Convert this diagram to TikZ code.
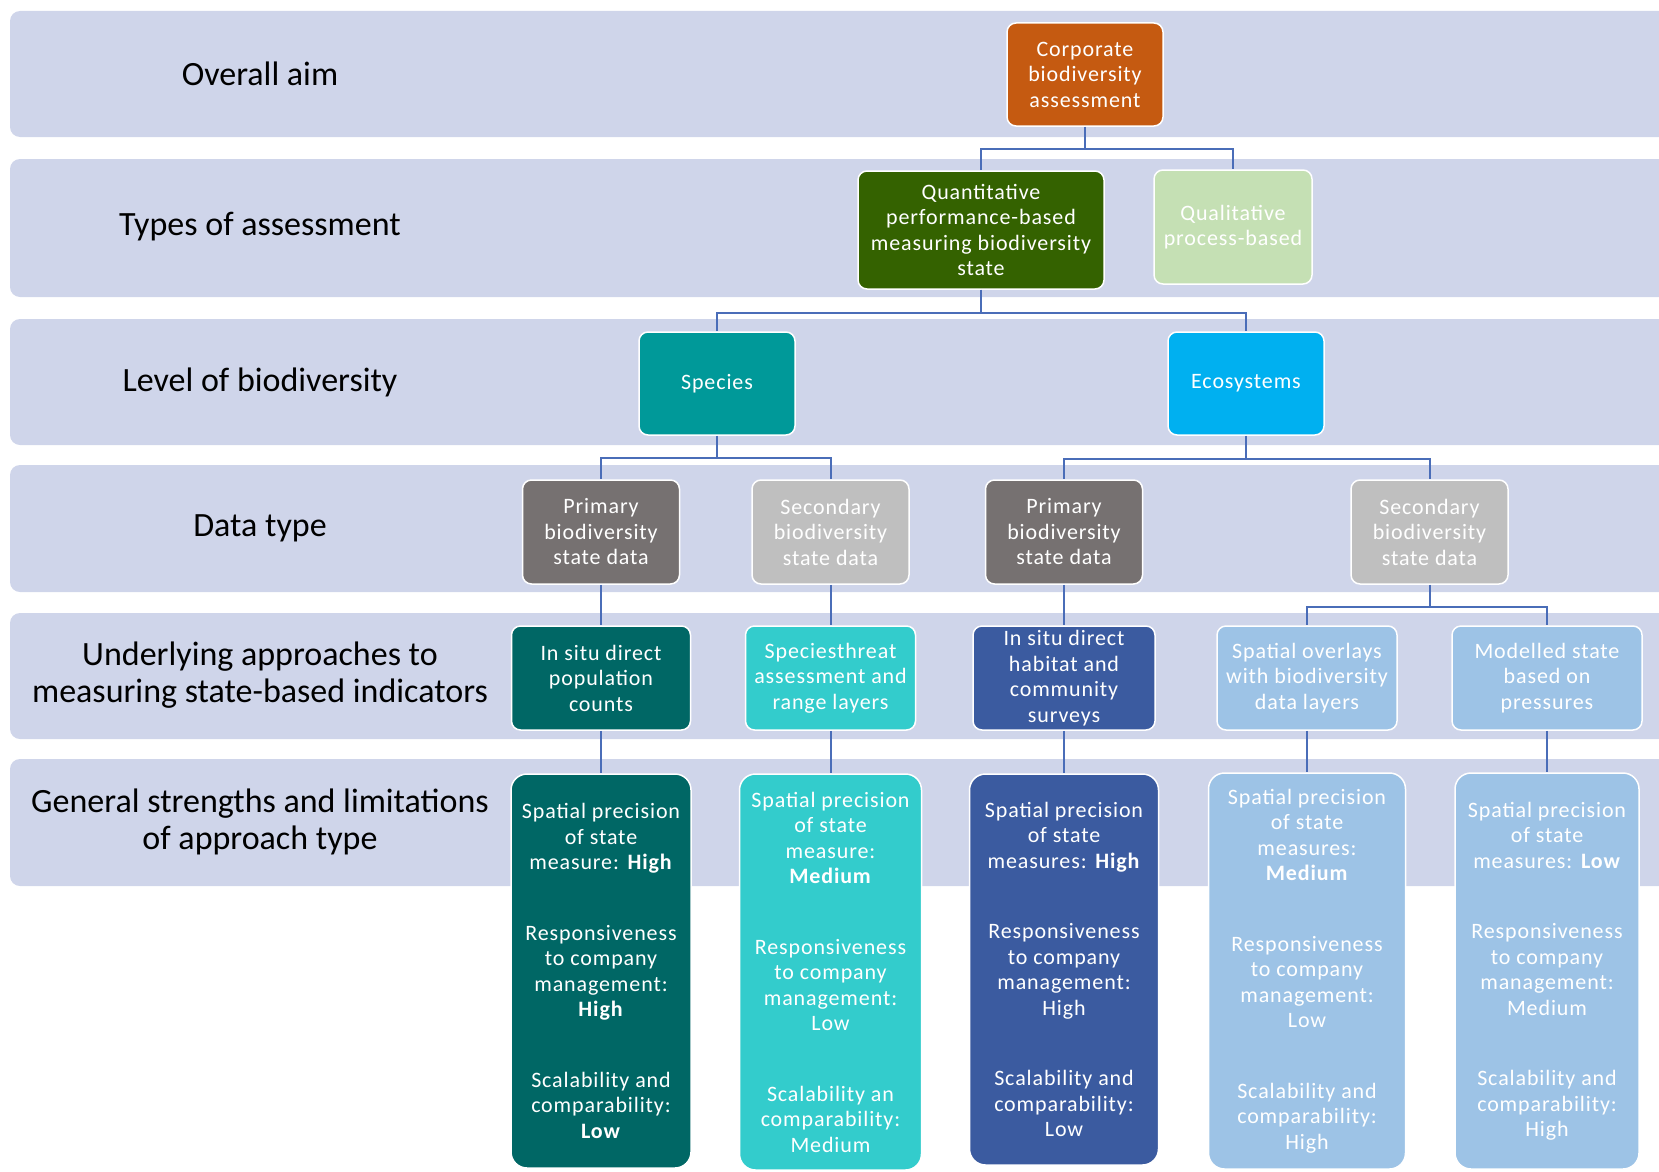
\documentclass[tikz,border=0pt]{standalone}
\usepackage{fontspec}
\setmainfont{Carlito}
\newfontfamily\boxfont[LetterSpace=4]{Carlito}
\definecolor{bandc}{HTML}{CFD5EA}
\definecolor{connc}{HTML}{4A6DB8}
\definecolor{corpc}{HTML}{C55A11}
\definecolor{quantc}{HTML}{346200}
\definecolor{qualc}{HTML}{C5E0B4}
\definecolor{specc}{HTML}{009999}
\definecolor{ecoc}{HTML}{00B0F0}
\definecolor{primc}{HTML}{767171}
\definecolor{secc}{HTML}{BFBFBF}
\definecolor{tealdk}{HTML}{006765}
\definecolor{turq}{HTML}{33CCCC}
\definecolor{bluedk}{HTML}{3B5BA0}
\definecolor{bluelt}{HTML}{9DC3E6}
\tikzset{
  band/.style={fill=bandc, rounded corners=10pt},
  lvl/.style={font=\fontsize{34}{37}\selectfont, align=center, text=black, inner sep=0pt},
  box/.style={draw=white, line width=1.5pt, rounded corners=9pt, text=white, align=center,
    inner sep=0pt, font=\boxfont\fontsize{22}{25.5}\selectfont},
  tallbox/.style={box, rounded corners=16pt},
  conn/.style={draw=connc, line width=2pt}
}
\begin{document}
\begin{tikzpicture}[x=1pt,y=-1pt]
\useasboundingbox (0,0) rectangle (1659,1172);
% bands
\fill[band] (10,11) rectangle (1690,137);
\fill[band] (10,159) rectangle (1690,297);
\fill[band] (10,319) rectangle (1690,445);
\fill[band] (10,465) rectangle (1690,592);
\fill[band] (10,613) rectangle (1690,739);
\fill[band] (10,759) rectangle (1690,886);
% level labels
\node[lvl] (l1) at (260,74) {Overall aim};
\node[lvl] (l2) at (260,227) {Types of assessment};
\node[lvl] (l3) at (260,382) {Level of biodiversity};
\node[lvl] (l4) at (260,528) {Data type};
\node[lvl] (l5) at (260,675) {Underlying approaches to\\measuring state-based indicators};
\node[lvl] (l6) at (260,822) {General strengths and limitations\\of approach type};
% connectors (drawn first, behind the boxes)
\coordinate (ccorp) at (1085,126);
\coordinate (cquant) at (981,289);
\coordinate (cspec) at (717,435);
\coordinate (ceco) at (1246,435);
\coordinate (csec) at (1429.5,584);
% boxes
\node[box, fill=corpc, minimum width=156pt, minimum height=103pt] (corp) at (1085,74.5) {Corporate\\biodiversity\\assessment};
\node[box, fill=quantc, minimum width=246pt, minimum height=118pt] (quant) at (981,230) {Quantitative\\performance-based\\measuring biodiversity\\state};
\node[box, fill=qualc, minimum width=158pt, minimum height=114pt] (qual) at (1233,227) {Qualitative\\process-based};
\node[box, fill=specc, minimum width=156pt, minimum height=103pt] (spec) at (717,383.5) {Species};
\node[box, fill=ecoc, minimum width=156pt, minimum height=103pt] (eco) at (1246,383.5) {Ecosystems};
\node[box, fill=primc, minimum width=157pt, minimum height=104pt] (prim1) at (601,532) {Primary\\biodiversity\\state data};
\node[box, fill=secc, minimum width=157pt, minimum height=104pt] (sec1) at (830.5,532) {Secondary\\biodiversity\\state data};
\node[box, fill=primc, minimum width=157pt, minimum height=104pt] (prim2) at (1064,532) {Primary\\biodiversity\\state data};
\node[box, fill=secc, minimum width=157pt, minimum height=104pt] (sec2) at (1429.5,532) {Secondary\\biodiversity\\state data};
\node[box, fill=tealdk, minimum width=179pt, minimum height=104pt] (app1) at (601,678) {In situ direct\\population\\counts};
\node[box, fill=turq, minimum width=170pt, minimum height=104pt] (app2) at (830.5,678) {Speciesthreat\\assessment and\\range layers};
\node[box, fill=bluedk, minimum width=182pt, minimum height=104pt] (app3) at (1064,678) {In situ direct\\habitat and\\community\\surveys};
\node[box, fill=bluelt, minimum width=180pt, minimum height=104pt] (app4) at (1307,678) {Spatial overlays\\with biodiversity\\data layers};
\node[box, fill=bluelt, minimum width=190pt, minimum height=104pt] (app5) at (1547,678) {Modelled state\\based on\\pressures};
\node[tallbox, fill=tealdk, minimum width=180pt, minimum height=394pt] (gen1) at (601,971) {Spatial precision\\of state\\measure: \textbf{High}\\[45pt]Responsiveness\\to company\\management:\\\textbf{High}\\[45pt]Scalability and\\comparability:\\\textbf{Low}};
\node[tallbox, fill=turq, minimum width=182pt, minimum height=396pt] (gen2) at (830.5,972) {Spatial precision\\of state\\measure:\\\textbf{Medium}\\[45pt]Responsiveness\\to company\\management:\\Low\\[45pt]Scalability an\\comparability:\\Medium};
\node[tallbox, fill=bluedk, minimum width=189pt, minimum height=391pt] (gen3) at (1064,969.5) {Spatial precision\\of state\\measures: \textbf{High}\\[45pt]Responsiveness\\to company\\management:\\High\\[45pt]Scalability and\\comparability:\\Low};
\node[tallbox, fill=bluelt, minimum width=197pt, minimum height=396pt] (gen4) at (1307,971) {Spatial precision\\of state\\measures:\\\textbf{Medium}\\[45pt]Responsiveness\\to company\\management:\\Low\\[45pt]Scalability and\\comparability:\\High};
\node[tallbox, fill=bluelt, minimum width=184pt, minimum height=396pt] (gen5) at (1547,971) {Spatial precision\\of state\\measures: \textbf{Low}\\[45pt]Responsiveness\\to company\\management:\\Medium\\[45pt]Scalability and\\comparability:\\High};
% connectors
\draw[conn] (corp.south) -- ++(0,22) -| (quant.north);
\draw[conn] (corp.south) -- ++(0,22) -| (qual.north);
\draw[conn] (quant.south) -- ++(0,23) -| (spec.north);
\draw[conn] (quant.south) -- ++(0,23) -| (eco.north);
\draw[conn] (spec.south) -- ++(0,22) -| (prim1.north);
\draw[conn] (spec.south) -- ++(0,22) -| (sec1.north);
\draw[conn] (eco.south) -- ++(0,23) -| (prim2.north);
\draw[conn] (eco.south) -- ++(0,23) -| (sec2.north);
\draw[conn] (sec2.south) -- ++(0,22) -| (app4.north);
\draw[conn] (sec2.south) -- ++(0,22) -| (app5.north);
\draw[conn] (prim1.south) -- (app1.north);
\draw[conn] (sec1.south) -- (app2.north);
\draw[conn] (prim2.south) -- (app3.north);
\draw[conn] (app1.south) -- (gen1.north);
\draw[conn] (app2.south) -- (gen2.north);
\draw[conn] (app3.south) -- (gen3.north);
\draw[conn] (app4.south) -- (gen4.north);
\draw[conn] (app5.south) -- (gen5.north);
\end{tikzpicture}
\end{document}
